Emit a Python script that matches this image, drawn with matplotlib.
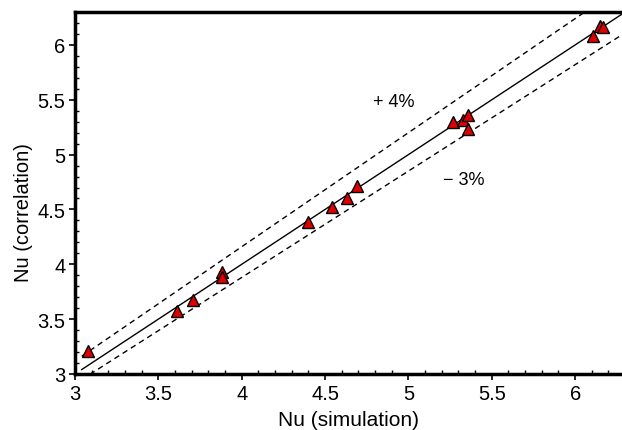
import matplotlib
matplotlib.use('Agg')
import matplotlib.pyplot as plt
import numpy as np
from matplotlib.ticker import MultipleLocator

plt.rcParams['font.family'] = ['Liberation Sans', 'DejaVu Sans']

# Nu values
nu_sim = [3.08, 3.61, 3.71, 3.88, 3.88, 4.40, 4.54, 4.63, 4.69,
          5.27, 5.33, 5.36, 5.36, 6.11, 6.15, 6.17]
nu_corr = [3.21, 3.57, 3.67, 3.93, 3.88, 4.39, 4.52, 4.60, 4.71,
           5.30, 5.32, 5.36, 5.23, 6.08, 6.17, 6.16]

upper_pct = 4
lower_pct = 3

fig = plt.figure(figsize=(6.22, 4.31), dpi=100)
ax = fig.add_axes([0.1206, 0.130, 0.8794, 0.8398])

xs = np.array([3.04, 6.4])
ax.plot(xs, xs, color='black', lw=1.0)
ax.plot(xs, xs * (1 + upper_pct / 100), color='black', lw=1.0, ls=(0, (4, 3)))
ax.plot(xs, xs * (1 - lower_pct / 100), color='black', lw=1.0, ls=(0, (4, 3)))

ax.plot(nu_sim, nu_corr, ls='none', marker='^', ms=8.5,
        markerfacecolor='#e00000', markeredgecolor='black', markeredgewidth=1.0)

ax.text(4.91, 5.485, '+ 4%', fontsize=13, ha='center', va='center')
ax.text(5.33, 4.775, '\u2212 3%', fontsize=13, ha='center', va='center')

ax.set_xlim(3, 6.281)
ax.set_ylim(3, 6.3)
ax.xaxis.set_major_locator(MultipleLocator(0.5))
ax.yaxis.set_major_locator(MultipleLocator(0.5))
ax.xaxis.set_minor_locator(MultipleLocator(0.1))
ax.yaxis.set_minor_locator(MultipleLocator(0.1))
ax.xaxis.set_major_formatter(matplotlib.ticker.FormatStrFormatter('%g'))
ax.yaxis.set_major_formatter(matplotlib.ticker.FormatStrFormatter('%g'))
ax.tick_params(which='major', direction='out', length=4, width=1.2, labelsize=14.5, pad=3)
ax.tick_params(which='minor', direction='in', length=3, width=1.0)

for side in ['left', 'bottom', 'top']:
    ax.spines[side].set_linewidth(2.5)
ax.spines['right'].set_visible(False)

ax.set_xlabel('Nu (simulation)', fontsize=15, labelpad=5)
ax.set_ylabel('Nu (correlation)', fontsize=14.5)
ax.yaxis.set_label_coords(-0.077, 0.45)

fig.savefig('out.png', dpi=100)
